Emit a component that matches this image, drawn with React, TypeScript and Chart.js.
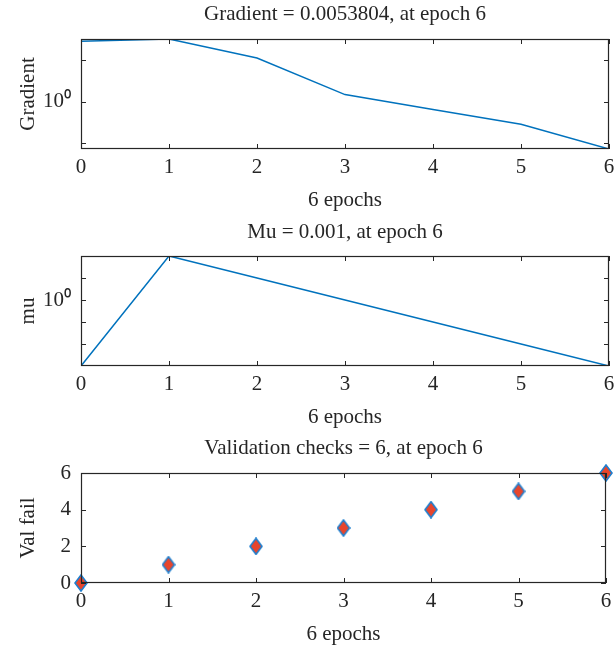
import React, { useEffect, useRef } from 'react';
import { Chart, registerables } from 'chart.js';

Chart.register(...registerables);

// ---- data ----
const epochs = [0, 1, 2, 3, 4, 5, 6];
const gradientValues = [800, 1030, 125, 2.2, 0.42, 0.083, 0.0053804];
const muValues = [0.001, 100, 10, 1, 0.1, 0.01, 0.001];
const valFailValues = [0, 1, 2, 3, 4, 5, 6];
const xTicks = [0, 1, 2, 3, 4, 5, 6];
const gradientTicks = [0.01, 0.1, 1, 10, 100];
const muTicks = [0.01, 0.1, 1, 10];
const valFailTicks = [0, 2, 4, 6];
const titles = [
  'Gradient = 0.0053804, at epoch 6',
  'Mu = 0.001, at epoch 6',
  'Validation checks = 6, at epoch 6',
];
const yLabels = ['Gradient', 'mu', 'Val fail'];
const xLabel = '6 epochs';

const FONT = "'Liberation Serif', 'Times New Roman', serif";
const TEXT = '#262626';
const BLUE = '#0072bd';
const RED = '#e8452c';

const boxPlugin = {
  id: 'matlabBox',
  afterDatasetsDraw(chart: any) {
    const { ctx, chartArea: a, scales } = chart;
    const xs = scales.x;
    const ys = scales.y;
    const tl = 5;
    ctx.save();
    ctx.strokeStyle = TEXT;
    ctx.lineWidth = 1;
    ctx.beginPath();
    xs.ticks.forEach((t: any) => {
      const px = Math.round(xs.getPixelForValue(t.value)) + 0.5;
      ctx.moveTo(px, a.bottom);
      ctx.lineTo(px, a.bottom - tl);
      ctx.moveTo(px, a.top);
      ctx.lineTo(px, a.top + tl);
    });
    ys.ticks.forEach((t: any) => {
      const py = Math.round(ys.getPixelForValue(t.value)) + 0.5;
      ctx.moveTo(a.left, py);
      ctx.lineTo(a.left + tl, py);
      ctx.moveTo(a.right, py);
      ctx.lineTo(a.right - tl, py);
    });
    ctx.stroke();
    ctx.lineWidth = 1.2;
    ctx.strokeRect(Math.round(a.left) + 0.5, Math.round(a.top) + 0.5, Math.round(a.width) - 1, Math.round(a.height) - 1);
    ctx.restore();
  },
};

function makeDiamond(): HTMLCanvasElement {
  const c = document.createElement('canvas');
  c.width = 14;
  c.height = 18;
  const g = c.getContext('2d')!;
  g.beginPath();
  g.moveTo(7, 1);
  g.lineTo(13, 9);
  g.lineTo(7, 17);
  g.lineTo(1, 9);
  g.closePath();
  g.fillStyle = RED;
  g.fill();
  g.strokeStyle = '#1f7fcf';
  g.lineWidth = 1.6;
  g.stroke();
  return c;
}

function buildConfig(idx: number, titlePad: { top: number; bottom: number }): any {
  const isLog = idx < 2;
  const yTickValues = idx === 0 ? gradientTicks : idx === 1 ? muTicks : valFailTicks;
  const yMin = idx === 0 ? Math.min(...gradientValues) : idx === 1 ? Math.min(...muValues) : 0;
  const yMax = idx === 0 ? Math.max(...gradientValues) : idx === 1 ? Math.max(...muValues) : 6;
  const values = idx === 0 ? gradientValues : idx === 1 ? muValues : valFailValues;

  const dataset: any =
    idx < 2
      ? {
          data: epochs.map((e, i) => ({ x: e, y: values[i] })),
          borderColor: BLUE,
          borderWidth: 1.5,
          pointRadius: 0,
          tension: 0,
          fill: false,
        }
      : {
          data: epochs.map((e, i) => ({ x: e, y: values[i] })),
          showLine: false,
          pointStyle: makeDiamond(),
          pointRadius: 7,
          clip: false,
        };

  return {
    type: 'line',
    data: { datasets: [dataset] },
    options: {
      responsive: false,
      maintainAspectRatio: false,
      animation: false,
      events: [],
      layout: { padding: { left: 0, right: 5, top: 0, bottom: 0 } },
      plugins: {
        legend: { display: false },
        tooltip: { enabled: false },
        title: {
          display: true,
          text: titles[idx],
          fullSize: false,
          color: TEXT,
          font: { family: FONT, size: 21, weight: 'normal', lineHeight: 1.2 },
          padding: titlePad,
        },
      },
      scales: {
        x: {
          type: 'linear',
          min: 0,
          max: 6,
          afterBuildTicks: (s: any) => {
            s.ticks = xTicks.map((v) => ({ value: v }));
          },
          afterFit: (s: any) => {
            s.height = 67;
            s.paddingRight = 0;
            s.paddingLeft = 0;
          },
          grid: { display: false, drawTicks: false },
          border: { display: false },
          ticks: { color: TEXT, padding: 5.5, font: { family: FONT, size: 21, lineHeight: 1.2 }, maxRotation: 0 },
          title: {
            display: true,
            text: xLabel,
            color: TEXT,
            font: { family: FONT, size: 21, lineHeight: 1.2 },
            padding: { top: 0, bottom: 3.4 },
          },
        },
        y: {
          type: isLog ? 'logarithmic' : 'linear',
          min: yMin,
          max: yMax,
          afterBuildTicks: (s: any) => {
            s.ticks = yTickValues.map((v) => ({ value: v }));
          },
          afterFit: (s: any) => {
            s.width = 81;
          },
          grid: { display: false, drawTicks: false },
          border: { display: false },
          ticks: {
            color: TEXT,
            padding: 10,
            font: { family: FONT, size: 21, lineHeight: 1.2 },
            callback: (v: any) => (isLog ? (v === 1 ? '10\u2070' : '') : String(v)),
          },
          title: {
            display: true,
            text: yLabels[idx],
            color: TEXT,
            font: { family: FONT, size: 21, lineHeight: 1.2 },
            padding: { top: 15.4, bottom: 0 },
          },
        },
      },
    },
    plugins: [boxPlugin],
  };
}

const panels = [
  { top: 0, height: 216, pad: { top: 1.4, bottom: 12.4 } },
  { top: 216, height: 217, pad: { top: 3.4, bottom: 11.4 } },
  { top: 433, height: 217, pad: { top: 2.4, bottom: 12.4 } },
];

export default function App() {
  const r0 = useRef<HTMLCanvasElement>(null);
  const r1 = useRef<HTMLCanvasElement>(null);
  const r2 = useRef<HTMLCanvasElement>(null);
  const refs = [r0, r1, r2];

  useEffect(() => {
    const charts: Chart[] = [];
    refs.forEach((r, i) => {
      if (r.current) {
        charts.push(new Chart(r.current, buildConfig(i, panels[i].pad)));
      }
    });
    return () => charts.forEach((c) => c.destroy());
  }, []);

  return (
    <div style={{ position: 'absolute', left: 0, top: 0, width: 614, height: 650, background: '#ffffff' }}>
      {panels.map((p, i) => (
        <canvas
          key={i}
          ref={refs[i]}
          width={614}
          height={p.height}
          style={{ position: 'absolute', left: 0, top: p.top, width: 614, height: p.height }}
        />
      ))}
    </div>
  );
}
